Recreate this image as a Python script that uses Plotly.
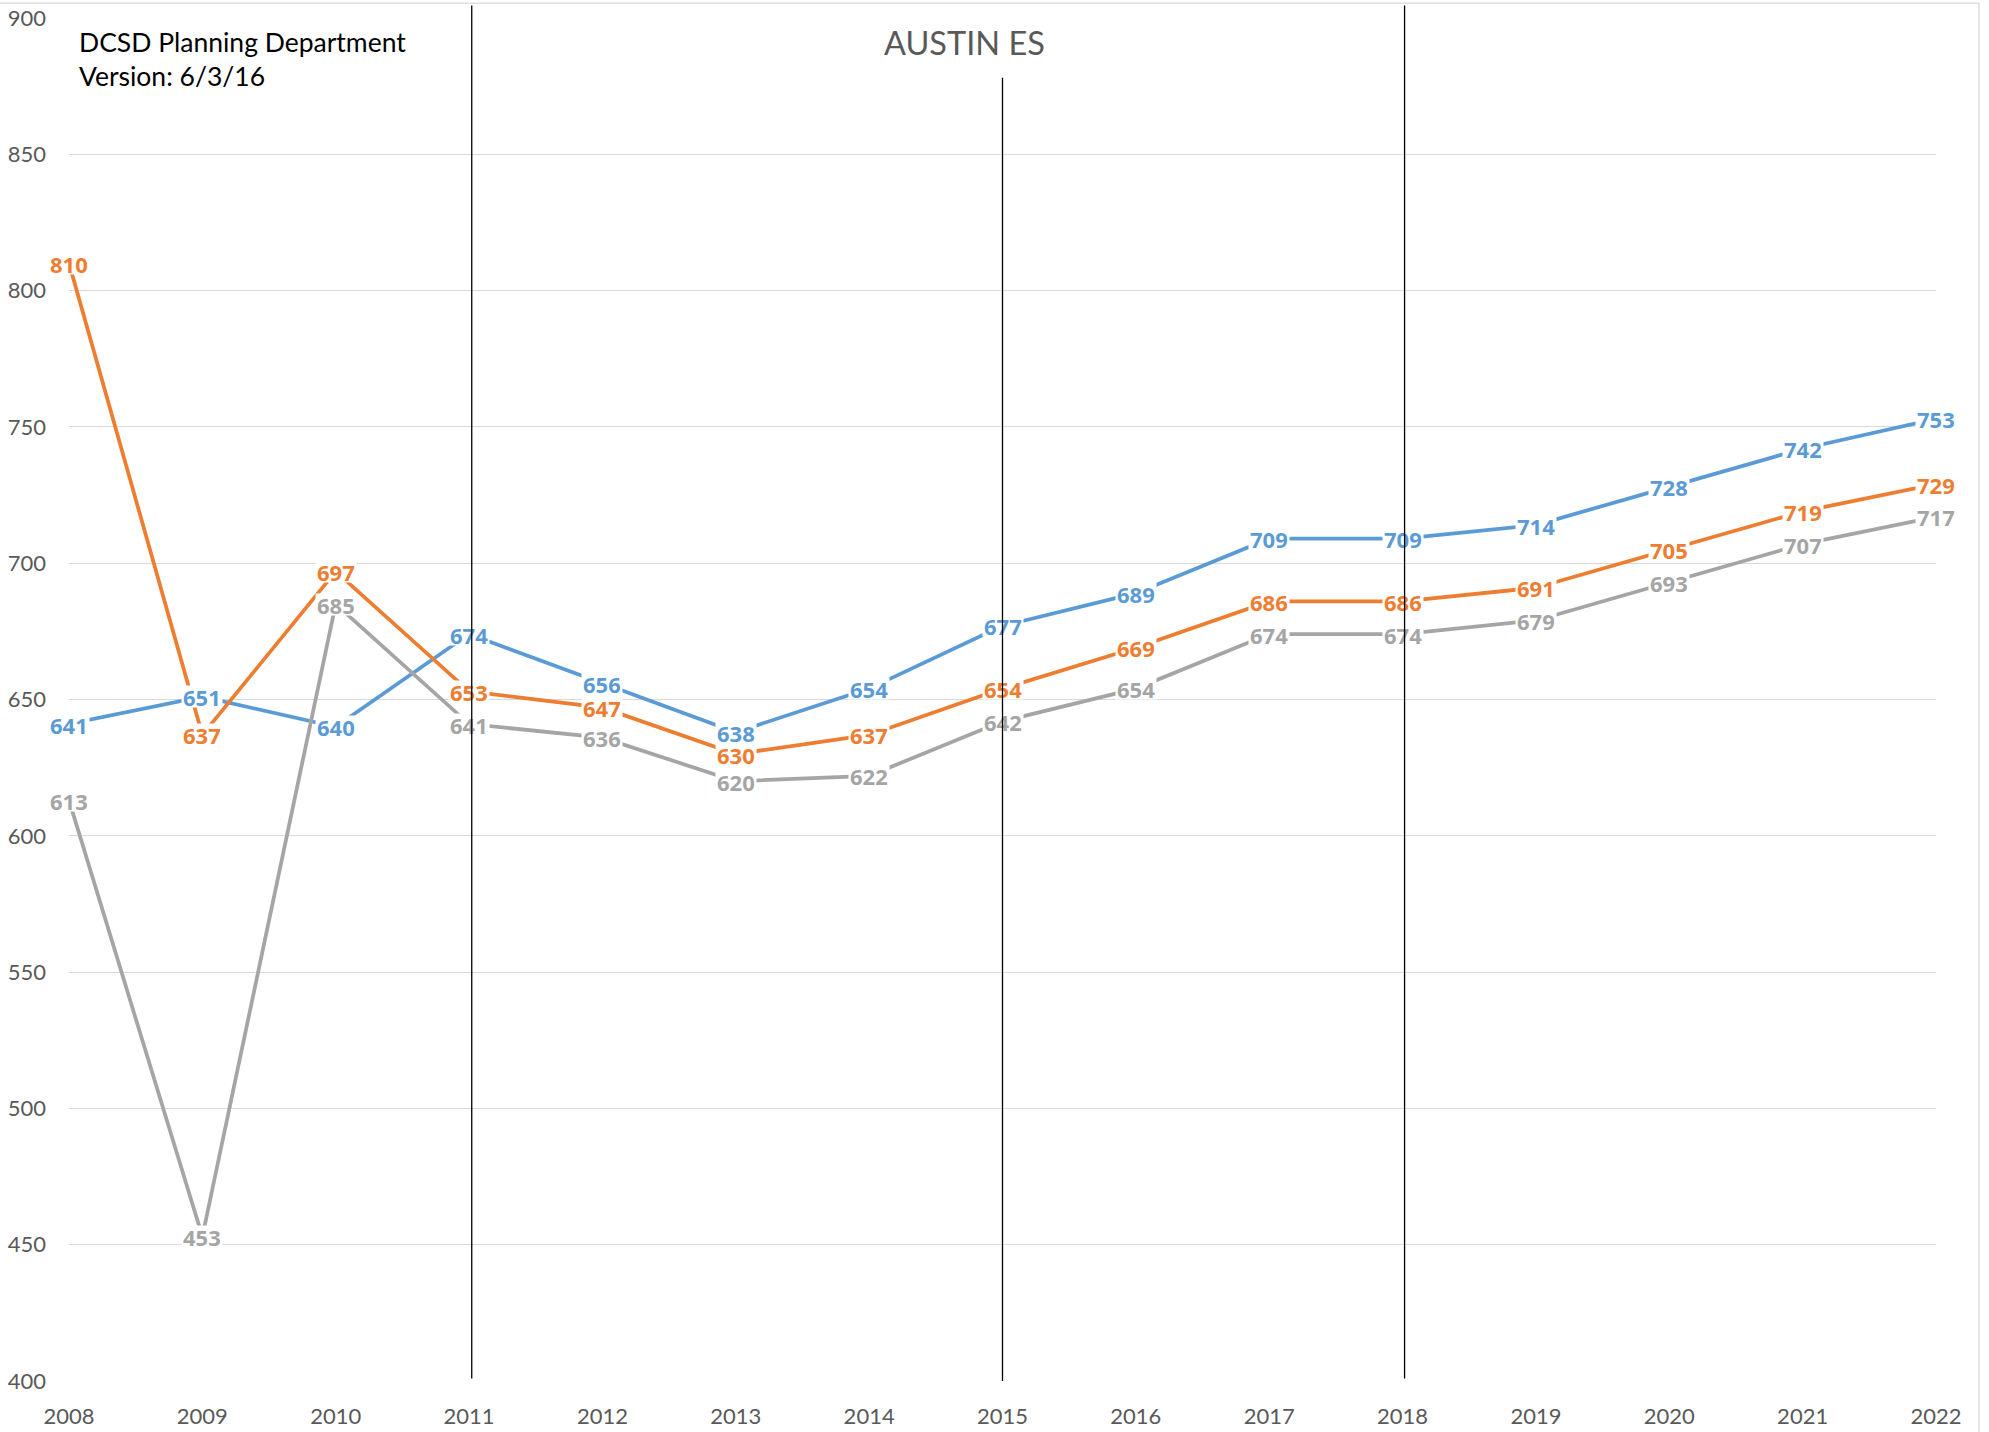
import plotly.graph_objects as go

years = list(range(2008, 2023))
series_a = [641, 651, 640, 674, 656, 638, 654, 677, 689, 709, 709, 714, 728, 742, 753]
series_b = [810, 637, 697, 653, 647, 630, 637, 654, 669, 686, 686, 691, 705, 719, 729]
series_c = [613, 453, 685, 641, 636, 620, 622, 642, 654, 674, 674, 679, 693, 707, 717]

series = [
    ("Series A", series_a, "#5B9BD5"),
    ("Series B", series_b, "#ED7D31"),
    ("Series C", series_c, "#A5A5A5"),
]

# vertical marker lines: (x, y_top, y_bottom) in data units
marker_lines = [(2011.02, 905.1, 400.9), (2015.0, 878.6, 400.0), (2018.015, 905.1, 400.9)]

title_text = "AUSTIN ES"
note_lines = ["DCSD Planning Department", "Version: 6/3/16"]

FONT = "Lato"
LABEL_FONT = "Open Sans"
W, H = 1989, 1432
ML, MR, MT, MB = 68.5, 53, 17.8, 50.6
PW, PH = W - ML - MR, H - MT - MB


def px_x(px):
    return (px - ML) / PW


def px_y(py):
    return (H - MB - py) / PH


fig = go.Figure()
annotations = []
for name, vals, color in series:
    fig.add_trace(go.Scatter(x=years, y=vals, mode="lines", name=name,
                             line=dict(color=color, width=3.75), hoverinfo="skip"))
for name, vals, color in series:
    for x, v in zip(years, vals):
        annotations.append(dict(
            x=x, y=v, xref="x", yref="y", showarrow=False,
            text=f"<b>{v}</b>",
            font=dict(family=LABEL_FONT, size=22, color=color, weight="bold"),
            bgcolor="white", borderpad=1, height=19, valign="middle",
            xanchor="center", yanchor="middle"))

for lx, ytop, ybot in marker_lines:
    annotations.append(dict(
        x=lx, y=ybot, xref="x", yref="y", ax=lx, ay=ytop, axref="x", ayref="y",
        text="", showarrow=True, arrowhead=0, arrowwidth=1.3, arrowcolor="black",
        standoff=0, startstandoff=0))

annotations.append(dict(x=px_x(964), y=px_y(42), xref="paper", yref="paper", showarrow=False,
                        text=title_text, font=dict(family=FONT, size=32.5, color="#595959"),
                        xanchor="center", yanchor="middle"))
for i, t in enumerate(note_lines):
    annotations.append(dict(x=px_x(77), y=px_y(42 + 34 * i), xref="paper", yref="paper",
                            showarrow=False, text=t,
                            font=dict(family=FONT, size=26.5, color="black"),
                            xanchor="left", yanchor="middle"))

fig.update_layout(
    width=W, height=H,
    margin=dict(l=ML, r=MR, t=MT, b=MB, pad=0, autoexpand=False),
    paper_bgcolor="white", plot_bgcolor="white",
    showlegend=False,
    annotations=annotations,
    shapes=[dict(type="rect", xref="paper", yref="paper",
                 x0=-0.2, y0=-0.2, x1=px_x(1979), y1=px_y(3),
                 line=dict(color="#D9D9D9", width=1.3), fillcolor="rgba(0,0,0,0)", layer="below")],
    xaxis=dict(range=[2008, 2022], dtick=1, tick0=2008, showgrid=False, zeroline=False,
               showline=False, ticks="", ticklabelstandoff=20, automargin=False,
               tickfont=dict(family=FONT, size=22, color="#595959")),
    yaxis=dict(range=[400, 900], dtick=50, tick0=400, showgrid=True, gridcolor="#D9D9D9",
               gridwidth=1.3, zeroline=False, showline=False, ticks="", ticklabelstandoff=22,
               automargin=False,
               tickfont=dict(family=FONT, size=22, color="#595959")),
)

fig.write_html("out.html", config={"displayModeBar": False},
               post_script="document.body.style.margin='0';document.body.style.overflow='hidden';")
